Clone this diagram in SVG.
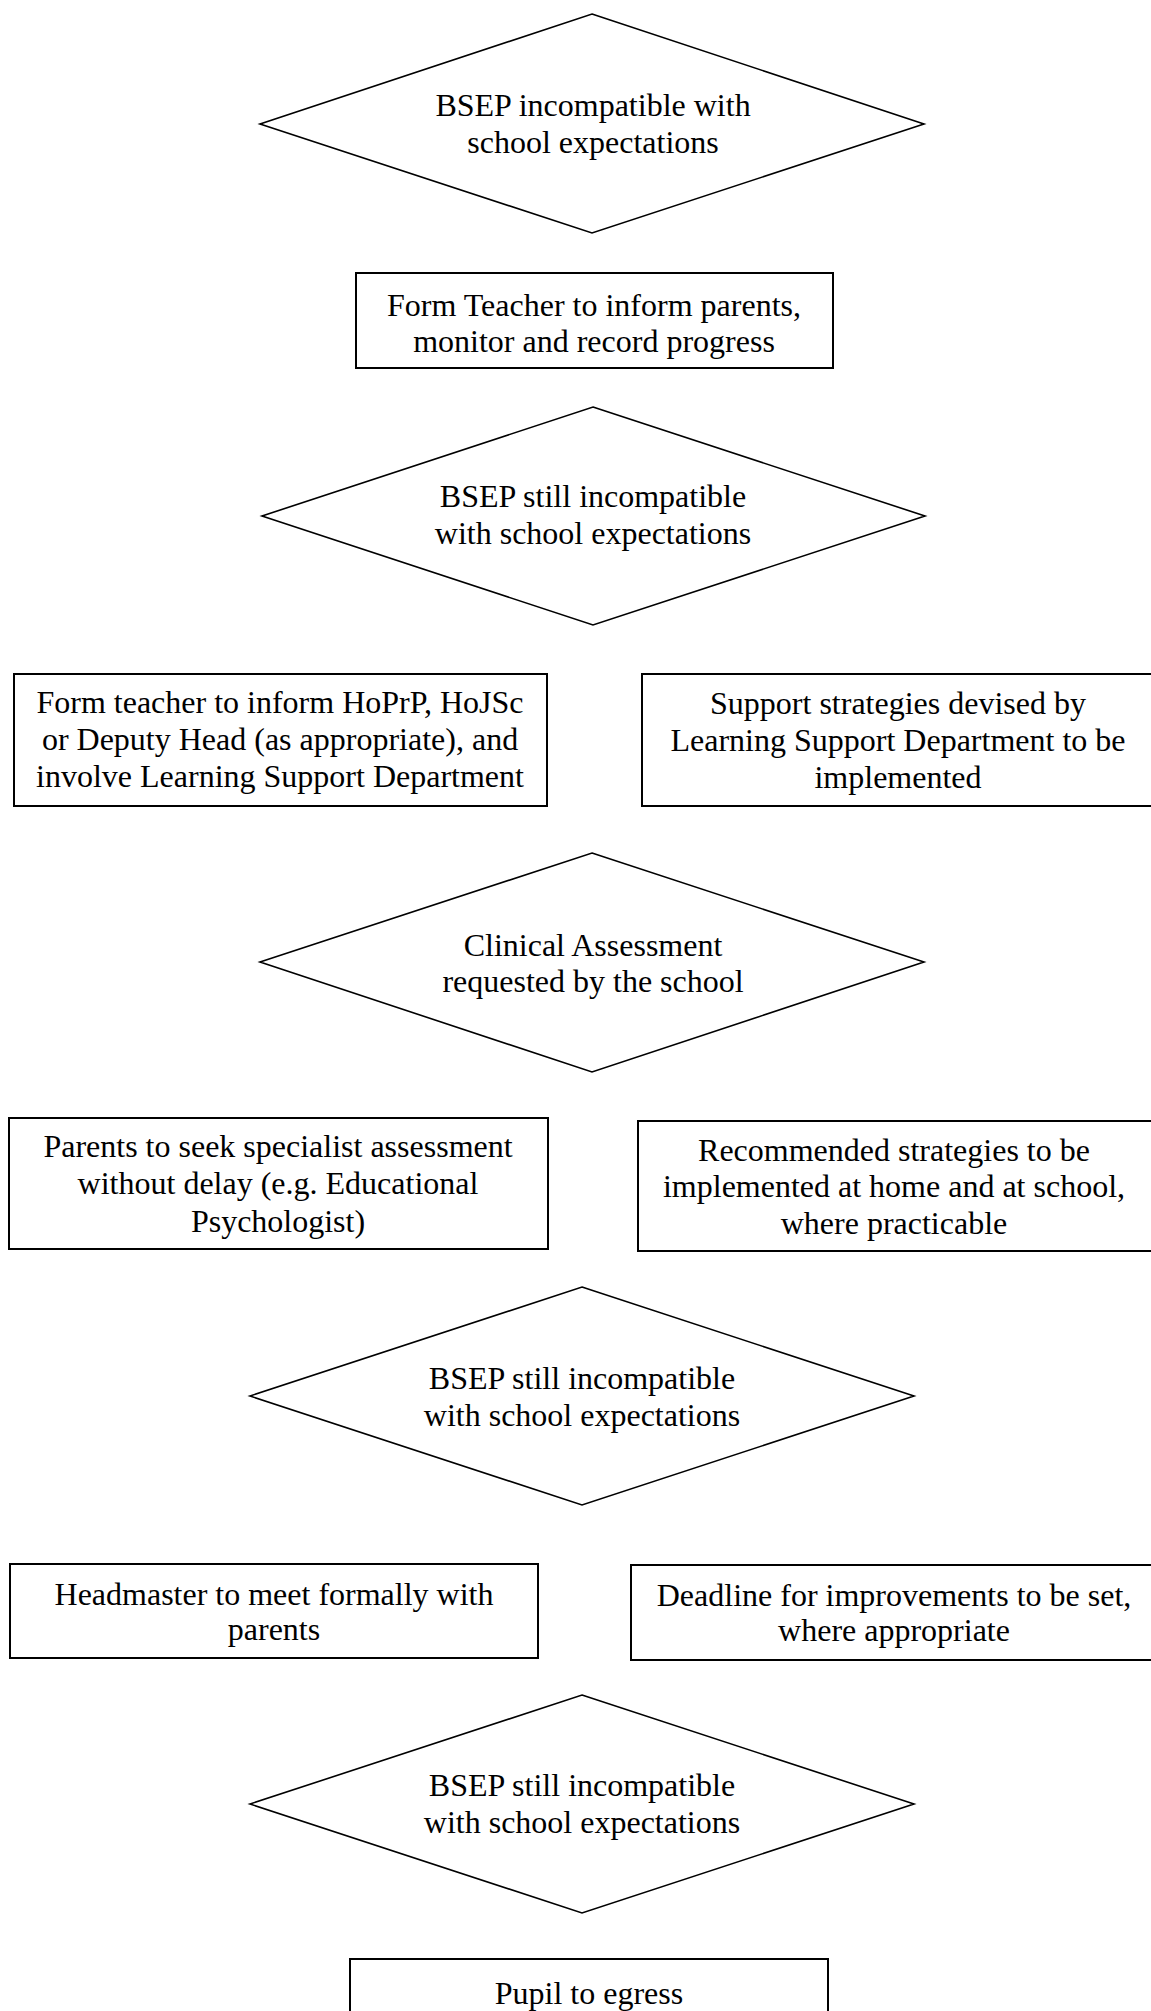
<svg xmlns="http://www.w3.org/2000/svg" width="1151" height="2011" viewBox="0 0 1151 2011">
<style>
.sh{fill:#fff;stroke:#000;stroke-width:1.6}
.bx{fill:#fff;stroke:#000;stroke-width:2}
text{font-family:"Liberation Serif","Times New Roman",serif;font-size:32px;fill:#000;text-anchor:middle}
</style>
<rect x="0" y="0" width="1151" height="2011" fill="#fff"/>
<g id="connectors"/>
<g id="d1">
<polygon class="sh" points="592,14 924,124 592,233 260,124"/>
<text x="593" y="116">BSEP incompatible with</text>
<text x="593" y="153">school expectations</text>
</g>
<g id="b1">
<rect class="bx" x="356" y="273" width="477" height="95"/>
<text x="594" y="316">Form Teacher to inform parents,</text>
<text x="594" y="352">monitor and record progress</text>
</g>
<g id="d2">
<polygon class="sh" points="593,407 925,516 593,625 262,516"/>
<text x="593" y="507">BSEP still incompatible</text>
<text x="593" y="544">with school expectations</text>
</g>
<g id="b2">
<rect class="bx" x="14" y="674" width="533" height="132"/>
<text x="280" y="713">Form teacher to inform HoPrP, HoJSc</text>
<text x="280" y="750">or Deputy Head (as appropriate), and</text>
<text x="280" y="787">involve Learning Support Department</text>
</g>
<g id="b3">
<rect class="bx" x="642" y="674" width="520" height="132"/>
<text x="898" y="714">Support strategies devised by</text>
<text x="898" y="751">Learning Support Department to be</text>
<text x="898" y="788">implemented</text>
</g>
<g id="d3">
<polygon class="sh" points="592,853 924,962 592,1072 260,962"/>
<text x="593" y="956">Clinical Assessment</text>
<text x="593" y="992">requested by the school</text>
</g>
<g id="b4">
<rect class="bx" x="9" y="1118" width="539" height="131"/>
<text x="278" y="1157">Parents to seek specialist assessment</text>
<text x="278" y="1194">without delay (e.g. Educational</text>
<text x="278" y="1232">Psychologist)</text>
</g>
<g id="b5">
<rect class="bx" x="638" y="1121" width="524" height="130"/>
<text x="894" y="1161">Recommended strategies to be</text>
<text x="894" y="1197">implemented at home and at school,</text>
<text x="894" y="1234">where practicable</text>
</g>
<g id="d4">
<polygon class="sh" points="582,1287 914,1396 582,1505 250,1396"/>
<text x="582" y="1389">BSEP still incompatible</text>
<text x="582" y="1426">with school expectations</text>
</g>
<g id="b6">
<rect class="bx" x="10" y="1564" width="528" height="94"/>
<text x="274" y="1605">Headmaster to meet formally with</text>
<text x="274" y="1640">parents</text>
</g>
<g id="b7">
<rect class="bx" x="631" y="1565" width="531" height="95"/>
<text x="894" y="1606">Deadline for improvements to be set,</text>
<text x="894" y="1641">where appropriate</text>
</g>
<g id="d5">
<polygon class="sh" points="582,1695 914,1804 582,1913 250,1804"/>
<text x="582" y="1796">BSEP still incompatible</text>
<text x="582" y="1833">with school expectations</text>
</g>
<g id="b8">
<rect class="bx" x="350" y="1959" width="478" height="70"/>
<text x="589" y="2004">Pupil to egress</text>
</g>
</svg>
